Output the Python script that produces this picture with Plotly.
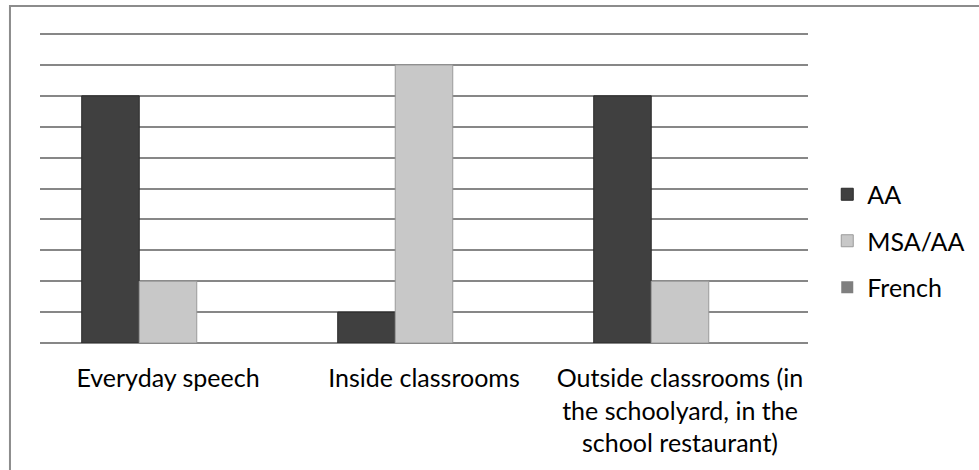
import plotly.graph_objects as go

# Language use by setting
categories = [
    "Everyday speech",
    "Inside classrooms",
    "Outside classrooms (in<br>the schoolyard, in the<br>school restaurant)",
]
aa_values = [8, 1, 8]
msa_aa_values = [2, 9, 2]
french_values = [0, 0, 0]

series_names = ["AA", "MSA/AA", "French"]
series_values = [aa_values, msa_aa_values, french_values]
fill_colors = ["#404040", "#c8c8c8", "#7f7f7f"]
edge_colors = ["#2a2a2a", "#9a9a9a", "#5f5f5f"]
edge_widths = [1, 1, 0]

FONT = "Lato, Calibri, Carlito, sans-serif"

fig = go.Figure()
for name, vals, fc, ec, ew in zip(series_names, series_values, fill_colors, edge_colors, edge_widths):
    fig.add_trace(go.Bar(
        x=categories,
        y=vals,
        name=name,
        legendgroup=name,
        marker=dict(color=fc, line=dict(color=ec, width=ew)),
    ))

fig.update_layout(
    width=979,
    height=470,
    margin=dict(l=40, r=171, t=31, b=127, autoexpand=False),
    paper_bgcolor="white",
    plot_bgcolor="white",
    barmode="group",
    bargap=0.326,
    bargroupgap=0,
    font=dict(family=FONT, size=25, color="#000000"),
    showlegend=True,
    legend=dict(
        xref="container",
        yref="container",
        x=0.845,
        xanchor="left",
        y=1 - 241 / 470,
        yanchor="middle",
        traceorder="grouped",
        tracegroupgap=11,
        font=dict(family=FONT, size=25, color="#000000"),
        bgcolor="rgba(0,0,0,0)",
    ),
    xaxis=dict(
        showline=False,
        ticks="",
        ticklabelstandoff=18,
        tickfont=dict(family=FONT, size=25, color="#000000"),
        showgrid=False,
    ),
    yaxis=dict(
        range=[0, 10.1],
        tick0=0,
        dtick=1,
        showticklabels=False,
        showgrid=True,
        gridcolor="#878787",
        gridwidth=1.6,
        zeroline=True,
        zerolinecolor="#878787",
        zerolinewidth=1.6,
        showline=False,
        ticks="",
    ),
    shapes=[
        # chart frame
        dict(type="rect", xref="paper", yref="paper",
             x0=-0.0391, x1=1.235, y0=-0.45, y1=1.08,
             line=dict(color="#8c8c8c", width=2), fillcolor="rgba(0,0,0,0)",
             layer="below"),
    ],
)

fig.write_html("out.html")
